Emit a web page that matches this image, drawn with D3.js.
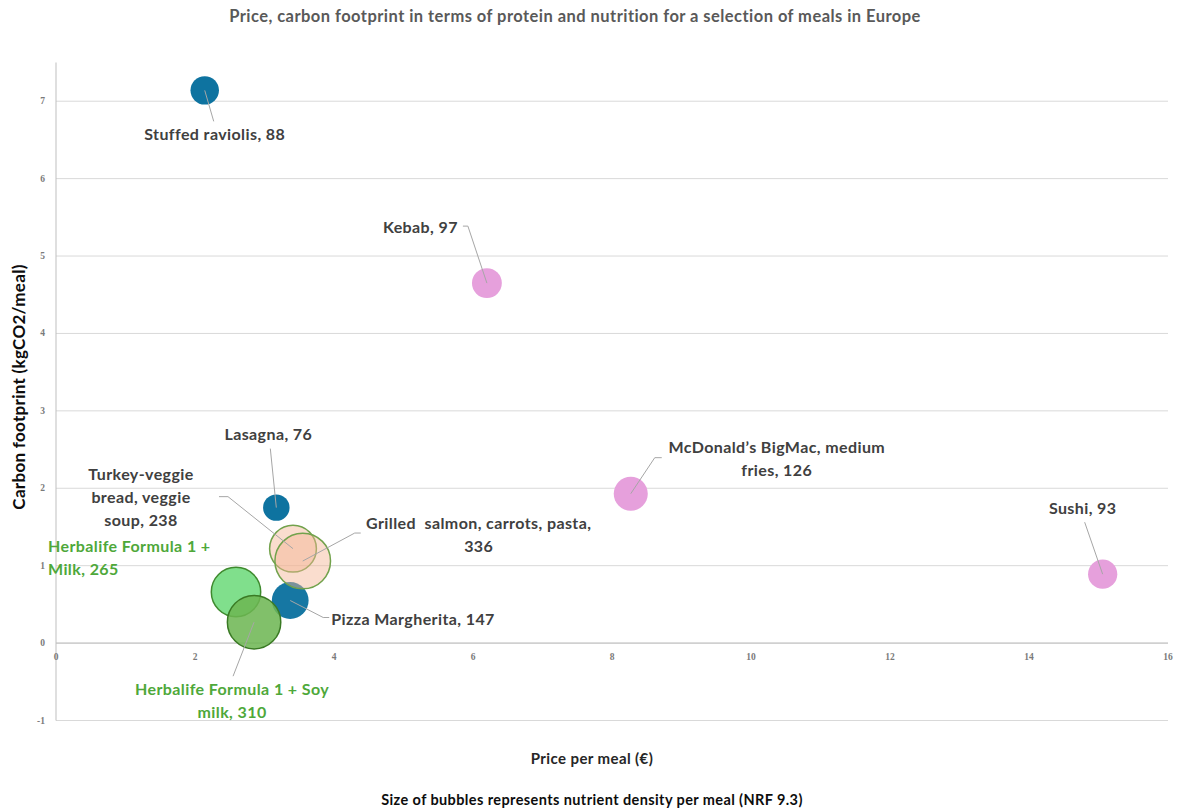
<!DOCTYPE html>
<html><head><meta charset="utf-8">
<script src="https://cdn.jsdelivr.net/npm/d3@7"></script>
<style>
html,body{margin:0;padding:0;background:#fff;}
svg{display:block;}
</style></head>
<body>
<svg id="chart" width="1179" height="812"></svg>
<script>
// ---- data ----
const meals = ["Stuffed raviolis","Lasagna","Pizza Margherita","Kebab","McDonald\u2019s BigMac, medium fries","Sushi","Turkey-veggie bread, veggie soup","Grilled  salmon, carrots, pasta","Herbalife Formula 1 + Milk","Herbalife Formula 1 + Soy milk"];
const price  = [2.14, 3.17, 3.37, 6.20, 8.27, 15.06, 3.41, 3.55, 2.59, 2.85];
const carbon = [7.14, 1.75, 0.55, 4.65, 1.93, 0.89, 1.22, 1.06, 0.66, 0.27];
const nrf    = [88, 76, 147, 97, 126, 93, 238, 336, 265, 310];
const xTicks = [0,2,4,6,8,10,12,14,16];
const yTicks = [-1,0,1,2,3,4,5,6,7];

const title = "Price, carbon footprint in terms of protein and nutrition for a selection of meals in Europe";
const xTitle = "Price per meal (\u20ac)";
const yTitle = "Carbon footprint (kgCO2/meal)";
const note = "Size of bubbles represents nutrient density per meal (NRF 9.3)";

// ---- styles / layout ----
const style = [
  {fill:"#0e73a0", op:1, stroke:"none"},
  {fill:"#0e73a0", op:1, stroke:"none"},
  {fill:"#0e73a0", op:0.97, stroke:"none"},
  {fill:"#e6a0dc", op:1, stroke:"none"},
  {fill:"#e6a0dc", op:1, stroke:"none"},
  {fill:"#e6a0dc", op:1, stroke:"none"},
  {fill:"#f4b393", op:0.45, stroke:"#72a24c"},
  {fill:"#f4b393", op:0.45, stroke:"#72a24c"},
  {fill:"#80df8c", op:1, stroke:"#3f8a2e"},
  {fill:"#6cb652", op:0.86, stroke:"#3a7a24"}
];
const labelCfg = [
  {lines:["Stuffed raviolis, 88"], anchor:"middle", dx:10, dy:50, lead:[[0,0],[9,31]]},
  {lines:["Lasagna, 76"], anchor:"middle", dx:-8, dy:-68, lead:[[0,0],[-6,-59]]},
  {lines:["Pizza Margherita, 147"], anchor:"start", dx:41, dy:24, lead:[[0,0],[33,17],[39,17]]},
  {lines:["Kebab, 97"], anchor:"end", dx:-29, dy:-50, lead:[[0,0],[-19,-57],[-24,-57]]},
  {lines:["McDonald\u2019s BigMac, medium","fries, 126"], anchor:"middle", dx:146, dy:-41, lead:[[0,0],[24,-36],[31,-36]]},
  {lines:["Sushi, 93"], anchor:"middle", dx:-20, dy:-60, lead:[[0,0],[-18,-52]]},
  {lines:["Turkey-veggie","bread, veggie","soup, 238"], anchor:"middle", dx:-152, dy:-69, lead:[[0,0],[-65,-52],[-74,-52]]},
  {lines:["Grilled  salmon, carrots, pasta,","336"], anchor:"middle", dx:176, dy:-32, lead:[[0,0],[52,-28],[58,-28]]},
  {lines:["Herbalife Formula 1 +","Milk, 265"], anchor:"start", dx:-188, dy:-40, lead:null, green:true},
  {lines:["Herbalife Formula 1 + Soy","milk, 310"], anchor:"middle", dx:-22, dy:73, lead:[[0,0],[-21,54]], green:true}
];
const FONT = "Lato, 'Open Sans', 'DejaVu Sans', sans-serif";

const svg = d3.select("#chart");
const x = d3.scaleLinear().domain([0,16]).range([56,1168]);
const y = d3.scaleLinear().domain([-1,7.5]).range([720.5,62.5]);
const r = d3.scaleSqrt().domain([0,336]).range([0,27.8]);

// gridlines
svg.append("g").selectAll("line").data(yTicks).join("line")
  .attr("x1", x(0)).attr("x2", x(16))
  .attr("y1", d=>y(d)).attr("y2", d=>y(d))
  .attr("stroke", d=> d===0 ? "#d0d0d0" : "#d9d9d9")
  .attr("stroke-width", d=> d===0 ? 1.6 : 1);
// left axis line
svg.append("line").attr("x1", x(0)).attr("x2", x(0)).attr("y1", y(7.5)).attr("y2", y(-1))
  .attr("stroke","#bfbfbf").attr("stroke-width",1);

// y tick labels
svg.append("g").selectAll("text").data(yTicks).join("text")
  .attr("x", x(0)-11).attr("y", d=>y(d)+3)
  .attr("text-anchor","end")
  .attr("font-family","'Liberation Serif', 'DejaVu Serif', serif")
  .attr("font-weight","bold").attr("font-size",9.5).attr("fill","#7a7a7a")
  .text(d=>d);
// x tick labels (placed beneath zero line)
svg.append("g").selectAll("text").data(xTicks).join("text")
  .attr("x", d=>x(d)).attr("y", y(0)+17)
  .attr("text-anchor","middle")
  .attr("font-family","'Liberation Serif', 'DejaVu Serif', serif")
  .attr("font-weight","bold").attr("font-size",9.5).attr("fill","#7a7a7a")
  .text(d=>d);

// bubbles
const idx = d3.range(meals.length);
svg.append("g").selectAll("circle").data(idx).join("circle")
  .attr("cx", i=>x(price[i])).attr("cy", i=>y(carbon[i])).attr("r", i=>r(nrf[i]))
  .attr("fill", i=>style[i].fill).attr("fill-opacity", i=>style[i].op)
  .attr("stroke", i=>style[i].stroke).attr("stroke-width", 1.5);

// leader lines
const lineGen = d3.line();
svg.append("g").selectAll("path").data(idx.filter(i=>labelCfg[i].lead)).join("path")
  .attr("d", i=>{
    const cx = x(price[i]), cy = y(carbon[i]);
    return lineGen(labelCfg[i].lead.map(p=>[cx+p[0], cy+p[1]]));
  })
  .attr("fill","none").attr("stroke","#a6a6a6").attr("stroke-width",1);

// labels
const lg = svg.append("g");
idx.forEach(i=>{
  const c = labelCfg[i];
  const cx = x(price[i]), cy = y(carbon[i]);
  const t = lg.append("text")
    .attr("x", cx+c.dx).attr("y", cy+c.dy)
    .attr("text-anchor", c.anchor)
    .attr("font-family", FONT).attr("font-weight","bold").attr("font-size",16)
    .attr("letter-spacing", 0.4)
    .attr("fill", c.green ? "#4ea83a" : "#404040")
    .style("white-space","pre");
  c.lines.forEach((ln,k)=>{
    t.append("tspan").attr("x", cx+c.dx).attr("dy", k===0?0:23).text(ln);
  });
});

// titles
svg.append("text").attr("x", 575).attr("y", 22).attr("text-anchor","middle")
  .attr("font-family",FONT).attr("font-weight","bold").attr("font-size",16.5)
  .attr("letter-spacing",0.45).attr("fill","#595959")
  .text(title);
svg.append("text").attr("x", 592).attr("y", 764).attr("text-anchor","middle")
  .attr("font-family",FONT).attr("font-weight","bold").attr("font-size",15)
  .attr("letter-spacing",0.4).attr("fill","#262626")
  .text(xTitle);
svg.append("text").attr("x", 592).attr("y", 805).attr("text-anchor","middle")
  .attr("font-family",FONT).attr("font-weight","bold").attr("font-size",14.5)
  .attr("letter-spacing",0.4).attr("fill","#0d0d0d")
  .text(note);
svg.append("text").attr("transform","translate(25,387) rotate(-90)").attr("text-anchor","middle")
  .attr("font-family",FONT).attr("font-weight","bold").attr("font-size",17)
  .attr("letter-spacing",0.3).attr("fill","#0d0d0d")
  .text(yTitle);
</script>
</body></html>
